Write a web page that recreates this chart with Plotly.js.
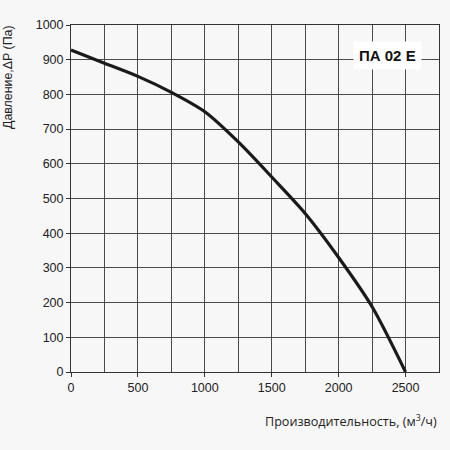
<!DOCTYPE html>
<html>
<head>
<meta charset="utf-8">
<script src="https://cdn.plot.ly/plotly-3.0.1.min.js"></script>
<style>html,body{margin:0;padding:0;background:#f7f7f7;}#chart{width:450px;height:450px;}</style>
</head>
<body>
<div id="chart"></div>
<script>
var flow = [0, 250, 500, 750, 1000, 1250, 1500, 1750, 2000, 2250, 2500];
var pressure = [928, 890, 852, 806, 750, 663, 562, 457, 330, 188, 0];
var xTickVals = [0, 500, 1000, 1500, 2000, 2500];
var yTickVals = [0, 100, 200, 300, 400, 500, 600, 700, 800, 900, 1000];
var modelLabel = 'ПА 02 E';
var xTitle = 'Производительность, (м<sup>3</sup>/ч)';
var yTitle = 'Давление,ΔP (Па)';

var trace = {
  x: flow, y: pressure, type: 'scatter', mode: 'lines',
  line: {color: '#1a1a1a', width: 3.2, shape: 'spline', smoothing: 0.8},
  hoverinfo: 'none'
};

var axisCommon = {
  showline: true, mirror: true, linecolor: '#333', linewidth: 1,
  showgrid: true, gridcolor: '#4a4a4a', gridwidth: 1,
  zeroline: false,
  ticks: 'outside', ticklen: 4, tickcolor: '#333',
  tickfont: {family: 'Liberation Sans, Arial, sans-serif', size: 12.5, color: '#222'}
};

var layout = {
  width: 450, height: 450,
  margin: {l: 71, r: 11, t: 25, b: 78},
  paper_bgcolor: '#f7f7f7', plot_bgcolor: '#f7f7f7',
  showlegend: false,
  xaxis: Object.assign({}, axisCommon, {
    range: [0, 2750], tickvals: xTickVals,
    minor: {tickvals: [250, 750, 1250, 1750, 2250, 2750], showgrid: true, gridcolor: '#4a4a4a', gridwidth: 1, ticks: ''}
  }),
  yaxis: Object.assign({}, axisCommon, {
    range: [0, 1000], tickvals: yTickVals
  }),
  annotations: [
    {text: '<b>' + modelLabel + '</b>', x: 2365, y: 913, xref: 'x', yref: 'y',
     showarrow: false, bgcolor: '#ffffff', borderpad: 5,
     font: {family: 'Liberation Sans, Arial, sans-serif', size: 15, color: '#111'}},
    {text: xTitle, x: 1, xref: 'paper', xanchor: 'right', y: -0.141, yref: 'paper', yanchor: 'middle',
     showarrow: false, font: {family: 'Open Sans, sans-serif', size: 12.6, color: '#222'}},
    {text: yTitle, textangle: -90, x: -0.171, xref: 'paper', xanchor: 'center', y: 1.006, yref: 'paper', yanchor: 'top',
     showarrow: false, font: {family: 'Liberation Sans, Arial, sans-serif', size: 12.4, color: '#222'}}
  ]
};

Plotly.newPlot('chart', [trace], layout, {staticPlot: true, displayModeBar: false});
</script>
</body>
</html>
